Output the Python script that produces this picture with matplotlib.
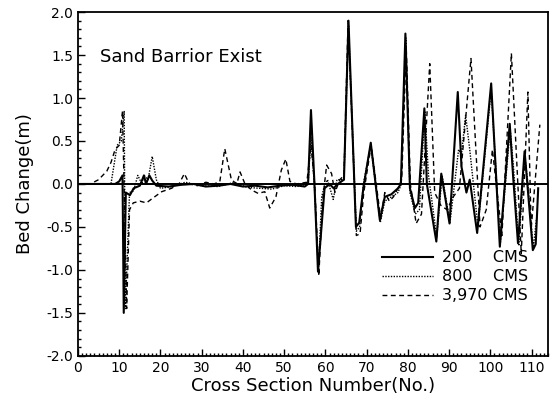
import matplotlib
matplotlib.use("Agg")
import matplotlib.pyplot as plt
from matplotlib.ticker import MultipleLocator

# 200 CMS
x200 = [0, 9, 10, 10.8, 11.1, 11.6, 12.6, 13.5, 15, 16, 16.5, 17.3, 18, 19, 22, 25, 28, 31, 34,
        37, 40, 43, 46, 49, 52, 55, 55.8, 56.5, 57.3, 58.2, 59.8, 61, 62, 63, 64.5, 65.6, 67.4,
        68.2, 69.2, 71, 73.2, 74.4, 76, 77.6, 78.3, 79.4, 80.5, 81.7, 82.5, 84.0, 84.6, 86.9,
        88.1, 90.1, 92.1, 93.0, 94.2, 95.0, 96.8, 100.2, 102.3, 104.7, 105.5, 106.7, 108.3,
        108.8, 110.3, 111.0, 111.6]
y200 = [0, 0, 0.03, 0.1, -1.5, -0.1, -0.13, -0.05, -0.02, 0.1, 0.0, 0.1, 0.04, -0.02, -0.03,
        -0.01, 0.0, -0.03, -0.02, 0.0, -0.03, -0.02, -0.04, -0.02, -0.01, -0.03, 0.0, 0.86, 0.05,
        -1.02, -0.05, 0.0, -0.05, 0.0, 0.05, 1.9, -0.5, -0.45, -0.05, 0.48, -0.42, -0.15, -0.12,
        -0.05, 0.0, 1.75, -0.05, -0.28, -0.22, 0.88, 0.0, -0.67, 0.12, -0.46, 1.07, 0.2, -0.1,
        0.05, -0.57, 1.17, -0.73, 0.7, 0.1, -0.69, 0.38, 0.1, -0.77, -0.7, -0.05]

# 800 CMS
x800 = [0, 8, 9.5, 10.5, 11.2, 11.5, 12.5, 13.5, 14.5, 15.5, 16, 17, 18, 19, 20, 23, 26, 30, 34,
        38, 41, 44, 47, 50, 53, 55.8, 56.5, 57.3, 58.3, 59.1, 59.6, 60.5, 61.9, 62.8, 64.5,
        65.6, 67.5, 68.3, 69.2, 71, 73.3, 74.4, 76, 77.6, 78.4, 79.5, 80.5, 81.8, 82.8, 84.1,
        85.0, 87.0, 88.3, 90.2, 92.3, 93.0, 94.0, 95.0, 97.0, 100.2, 102.4, 104.8, 105.6,
        106.9, 108.3, 109.0, 110.4, 111.2]
y800 = [0, 0, 0.45, 0.5, 0.85, -1.45, -0.1, -0.08, 0.1, 0.0, 0.1, 0.05, 0.32, 0.05, -0.05,
        -0.03, 0.02, -0.02, -0.03, 0.02, -0.04, -0.05, -0.06, -0.02, -0.03, 0.0, 0.55, 0.0,
        -1.0, -0.15, -0.05, 0.05, -0.18, 0.05, 0.05, 1.85, -0.55, -0.5, 0.0, 0.45, -0.45, -0.2,
        -0.15, -0.1, 0.0, 1.7, -0.1, -0.35, -0.3, 0.85, 0.1, -0.62, 0.1, -0.45, 0.4, 0.35, 0.8,
        0.4, -0.5, 1.1, -0.7, 0.65, 0.2, -0.72, 0.35, 0.05, -0.75, -0.4]

# 3,970 CMS
x3970 = [0, 3, 5, 7, 8, 9, 10, 10.8, 11.8, 12.5, 13.4, 15, 16.6, 18, 20.3, 22.7, 24.5, 25.8, 27,
         29, 31, 33, 34.4, 35.6, 37.2, 38.5, 39.3, 40.5, 42.1, 43.7, 45.3, 46.5, 48, 49.3, 50.4,
         51.4, 53, 55.5, 56.5, 57.4, 58.4, 59.3, 60.3, 61.5, 62.3, 63.5, 64.5, 65.5, 67.5, 68.4,
         69.3, 71.1, 73.4, 74.4, 75.5, 76.5, 77.6, 78.5, 79.6, 80.6, 82.0, 83.3, 85.3, 86.5,
         88.0, 89.5, 91.0, 92.5, 95.3, 97.5, 99.0, 100.5, 102.8, 105.1, 107.5, 109.1, 109.9,
         112.0]
y3970 = [0, 0, 0.05, 0.15, 0.25, 0.4, 0.45, 0.85, -1.45, -0.3, -0.22, -0.2, -0.22, -0.17, -0.09,
         -0.05, 0.0, 0.12, 0.0, -0.02, 0.02, 0.0, 0.03, 0.41, 0.05, 0.0, 0.14, 0.0, -0.07, -0.11,
         -0.09, -0.28, -0.15, 0.16, 0.29, 0.03, 0.0, 0.02, 0.45, 0.0, -1.07, -0.2, 0.22, 0.12,
         -0.1, 0.05, 0.1, 1.9, -0.6, -0.58, -0.1, 0.45, -0.4, -0.1, -0.2, -0.15, -0.05, 0.05,
         1.6, 0.0, -0.46, -0.35, 1.4, -0.1, -0.25, -0.3, -0.15, -0.05, 1.46, -0.5, -0.3, 0.4,
         -0.6, 1.52, -0.81, 1.07, -0.52, 0.69]

fig = plt.figure(figsize=(5.57, 4.03), dpi=100)
ax = fig.add_axes([0.140, 0.117, 0.844, 0.853])

ax.axhline(0, color="black", lw=1.4)
ax.plot(x200, y200, color="black", lw=1.5, label="200    CMS")
ax.plot(x800, y800, color="black", lw=1.0, ls=(0, (1, 1)), label="800    CMS")
ax.plot(x3970, y3970, color="black", lw=1.0, ls=(0, (3.5, 2.5)), label="3,970 CMS")

ax.set_xlim(0, 114)
ax.set_ylim(-2, 2)
ax.xaxis.set_major_locator(MultipleLocator(10))
ax.xaxis.set_minor_locator(MultipleLocator(1))
ax.yaxis.set_major_locator(MultipleLocator(0.5))
ax.yaxis.set_minor_locator(MultipleLocator(0.1))
ax.yaxis.set_major_formatter(plt.FormatStrFormatter("%.1f"))
ax.tick_params(which="both", direction="in", labelsize=10, width=1.0)
ax.tick_params(which="major", length=5)
ax.tick_params(which="minor", length=2.5)
for sp in ax.spines.values():
    sp.set_linewidth(1.3)

ax.set_xlabel("Cross Section Number(No.)", fontsize=13, labelpad=2)
ax.set_ylabel("Bed Change(m)", fontsize=13, labelpad=9)
ax.text(5.3, 1.48, "Sand Barrior Exist", fontsize=13, va="center", ha="left")

ax.legend(loc="lower right", bbox_to_anchor=(0.975, 0.13), frameon=False, fontsize=11.5,
          handlelength=3.2, handletextpad=0.6, labelspacing=0.25, borderpad=0)

plt.savefig("out.png", dpi=100)
